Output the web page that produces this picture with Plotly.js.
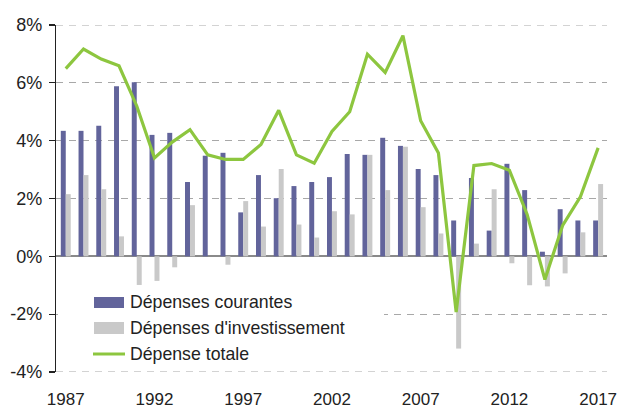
<!DOCTYPE html>
<html>
<head>
<meta charset="utf-8">
<script src="https://cdn.plot.ly/plotly-3.0.1.min.js"></script>
<style>html,body{margin:0;padding:0;background:#fff;}#chart{width:620px;height:408px;}</style>
</head>
<body>
<div id="chart"></div>
<script>
const years = [1987,1988,1989,1990,1991,1992,1993,1994,1995,1996,1997,1998,1999,2000,2001,2002,2003,2004,2005,2006,2007,2008,2009,2010,2011,2012,2013,2014,2015,2016,2017];
const courantes = [4.34,4.34,4.52,5.88,6.02,4.20,4.27,2.57,3.48,3.58,1.52,2.81,2.01,2.43,2.57,2.74,3.54,3.51,4.10,3.82,3.02,2.81,1.24,2.71,0.89,3.20,2.29,0.16,1.63,1.24,1.24];
const investissement = [2.15,2.81,2.32,0.69,-0.99,-0.85,-0.38,1.77,0.00,-0.29,1.91,1.03,3.02,1.10,0.65,1.56,1.45,3.51,2.29,3.79,1.70,0.79,-3.19,0.44,2.32,-0.24,-1.00,-1.04,-0.59,0.83,2.50];
const totale = [6.49,7.17,6.82,6.59,5.20,3.40,3.95,4.38,3.51,3.35,3.35,3.87,5.05,3.51,3.22,4.32,5.00,6.99,6.36,7.63,4.69,3.57,-1.93,3.14,3.21,2.98,1.45,-0.80,1.07,2.06,3.75];
const xTickVals = [1987,1992,1997,2002,2007,2012,2017];
const xTickText = ['1987','1992','1997','2002','2007','2012','2017'];
const yTickVals = [-4,-2,0,2,4,6,8];
const yTickText = ['-4%','-2%','0%','2%','4%','6%','8%'];
const seriesNames = ['Dépenses courantes', "Dépenses d'investissement", 'Dépense totale'];

const colBlue = '#62649b', colGray = '#c9c9c9', colGreen = '#8dc63f';
const gridCol = '#a8a8a8', gridDash = '7px,6px';
const W = 620, H = 408, mL = 56, mR = 13, mT = 25, mB = 36;
const pw = W - mL - mR, ph = H - mT - mB;
const px = x => (x - mL) / pw;
const py = y => 1 - (y - mT) / ph;
const font = 'Liberation Sans, Arial, Helvetica, sans-serif';
const yMin = yTickVals[0], yMax = yTickVals[yTickVals.length - 1];

const traces = [
  {type:'bar', x: years, y: courantes, name: seriesNames[0], marker:{color: colBlue}},
  {type:'bar', x: years, y: investissement, name: seriesNames[1], marker:{color: colGray}},
  {type:'scatter', mode:'lines', x: years, y: totale, name: seriesNames[2], line:{color: colGreen, width: 3.2}}
];

const shapes = [
  // edge gridlines (Plotly omits grid at the range boundaries)
  {type:'line', xref:'paper', yref:'y', x0:0, x1:1, y0:yMax, y1:yMax, line:{color:gridCol, width:1.2, dash:gridDash}, layer:'below'},
  {type:'line', xref:'paper', yref:'y', x0:0, x1:1, y0:yMin, y1:yMin, line:{color:gridCol, width:1.2, dash:gridDash}, layer:'below'},
  // legend
  {type:'rect', xref:'paper', yref:'paper', x0:px(58), x1:px(384), y0:py(367), y1:py(286), fillcolor:'#fff', line:{width:0}, layer:'above'},
  {type:'rect', xref:'paper', yref:'paper', x0:px(94), x1:px(124), y0:py(308), y1:py(297), fillcolor:colBlue, line:{width:0}, layer:'above'},
  {type:'rect', xref:'paper', yref:'paper', x0:px(94), x1:px(124), y0:py(334), y1:py(322), fillcolor:colGray, line:{width:0}, layer:'above'},
  {type:'line', xref:'paper', yref:'paper', x0:px(93), x1:px(125), y0:py(354), y1:py(354), line:{color:colGreen, width:3}, layer:'above'}
];
const legY = [302, 328, 354];
const annotations = seriesNames.map((n, i) => ({
  xref:'paper', yref:'paper', x:px(128), y:py(legY[i]), xanchor:'left', yanchor:'middle',
  text:n, showarrow:false, font:{family:font, size:17.7, color:'#222'}
}));

const layout = {
  width: W, height: H,
  margin:{l:mL, r:mR, t:mT, b:mB, pad:0},
  paper_bgcolor:'#fff', plot_bgcolor:'#fff',
  showlegend:false,
  barmode:'group', bargap:0.44, bargroupgap:0,
  font:{family:font, size:17, color:'#222'},
  xaxis:{range:[1986.45, 2017.5], tickvals:xTickVals, ticktext:xTickText, showgrid:false, zeroline:false, showline:false, ticks:'', ticklabelstandoff:15, tickfont:{size:17, color:'#222'}},
  yaxis:{range:[yMin, yMax], tickvals:yTickVals, ticktext:yTickText, showgrid:true, gridcolor:gridCol, gridwidth:1.2, griddash:gridDash,
         zeroline:true, zerolinecolor:'#8a8a8a', zerolinewidth:2.2, showline:true, linecolor:'#222', linewidth:1.2,
         ticks:'outside', ticklen:6, tickcolor:'#222', tickwidth:1.2, ticklabelstandoff:3, tickfont:{size:18, color:'#222'}},
  yaxis2:{overlaying:'y', side:'left', range:[yMin, yMax], tickvals:yTickVals, showticklabels:false, showgrid:false, zeroline:false, showline:false,
          ticks:'inside', ticklen:6, tickcolor:'#222', tickwidth:1.2},
  shapes: shapes,
  annotations: annotations
};

Plotly.newPlot('chart', traces, layout, {displayModeBar:false, staticPlot:true});
</script>
</body>
</html>
